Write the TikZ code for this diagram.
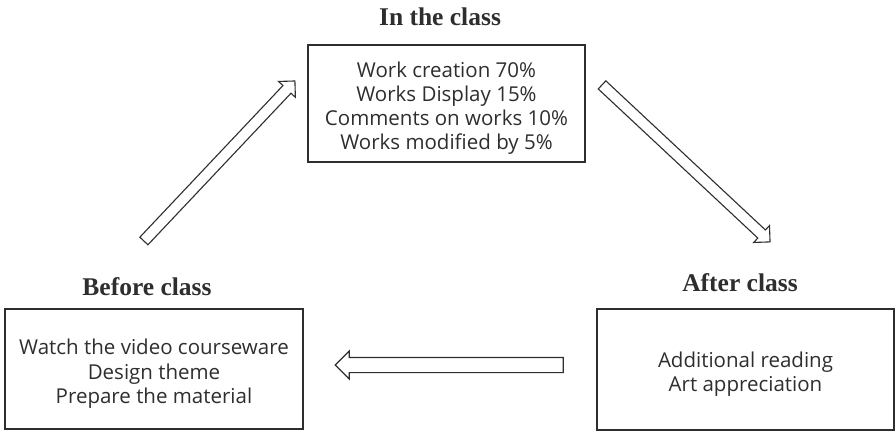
\documentclass[tikz,border=0pt]{standalone}
\usepackage{fontspec}
\setmainfont{Liberation Serif}
\newfontfamily\bodyfont{Open Sans}
\usetikzlibrary{shapes.arrows,calc}
\definecolor{ink}{HTML}{2E2E2E}
\newcommand\firstline{\rule{0pt}{25pt}}
\tikzset{
  box/.style={draw=ink, line width=2.8pt, minimum width=#1, align=center, text=ink,
     font=\bodyfont\fontsize{20.5}{24.3}\selectfont, inner sep=0pt},
  title/.style={font=\bfseries\fontsize{25.5}{28}\selectfont, text=ink},
  blockarr/.style={single arrow, draw=ink, line width=1.1pt, fill=white, inner sep=5pt,
     single arrow head extend=6pt, single arrow tip angle=90, shape border uses incircle=false},
}
\newcommand\blockarrow[3][]{%
  \path let \p1=(#2), \p2=(#3), \n1={atan2(\y2-\y1,\x2-\x1)}, \n2={veclen(\x2-\x1,\y2-\y1)} in
    node[blockarr, #1, minimum height=\n2, rotate=\n1, anchor=center] at ($(#2)!0.5!(#3)$) {};}
\begin{document}
\begin{tikzpicture}[x=1pt,y=-1pt]
\useasboundingbox (0,0) rectangle (896,431);
\node[box=277pt, minimum height=117pt] (in) at (446.5,103.5) {\firstline Work creation 70\%\\Works Display 15\%\\Comments on works 10\%\\Works modified by 5\%};
\node[box=298pt, minimum height=120pt] (before) at (154,369) {\firstline Watch the video courseware\\Design theme\\Prepare the material};
\node[box=297pt, minimum height=121pt] (after) at (745.5,369.5) {\firstline Additional reading\\Art appreciation};
\node[title] (tin) at (440,17) {In the class};
\node[title] (tbefore) at (147,287) {Before class};
\node[title] (tafter) at (740,283) {After class};
\coordinate (a1) at (142,243);
\coordinate (a2) at (293,83);
\coordinate (b1) at (600,83);
\coordinate (b2) at (768,240);
\coordinate (c1) at (567,365);
\coordinate (c2) at (339,365);
\blockarrow{a1}{a2}
\blockarrow{b1}{b2}
\blockarrow[inner sep=7pt, single arrow head extend=6.5pt]{c1}{c2}
\end{tikzpicture}
\end{document}
